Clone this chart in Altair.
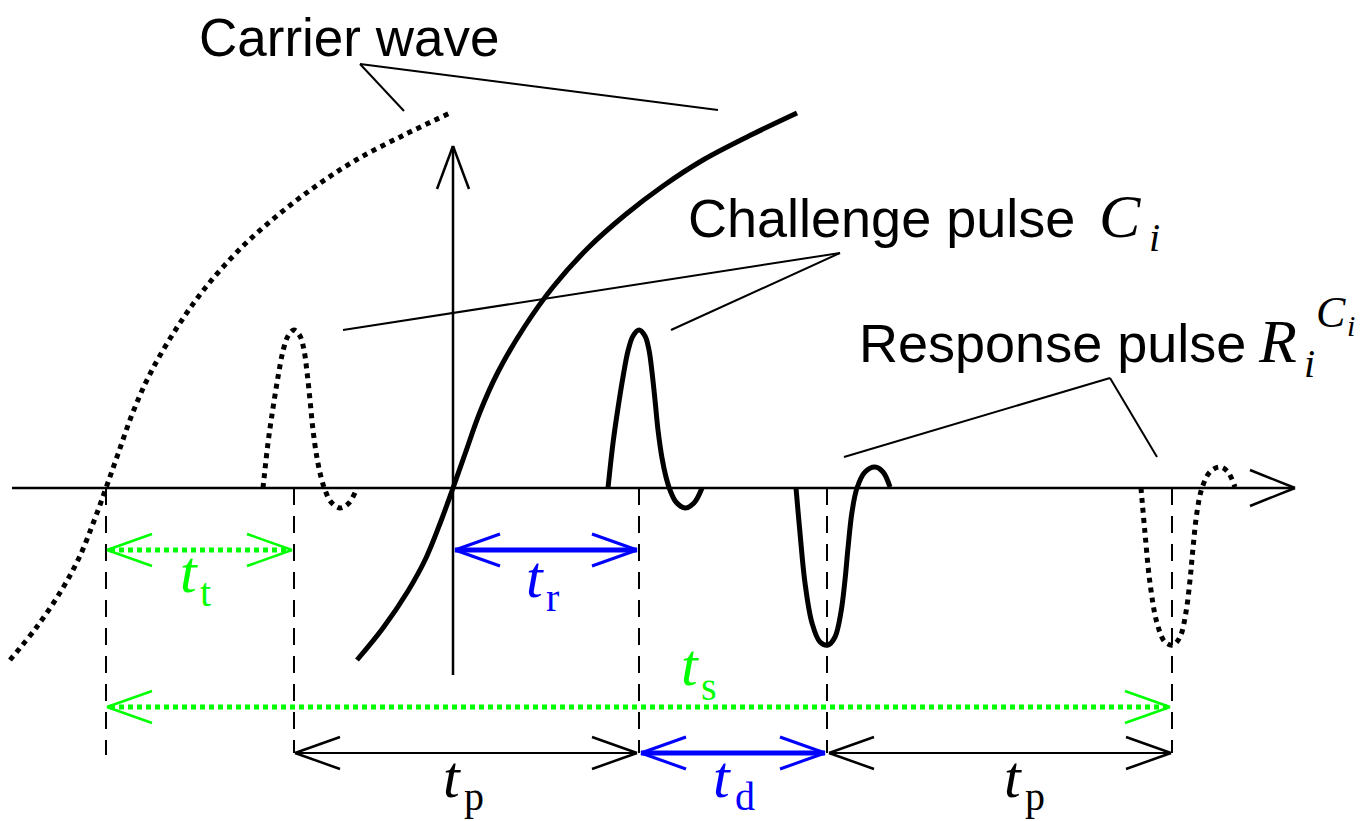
import altair as alt
import pandas as pd

# canvas: data units are page pixels (8px page margin)
W, H = 1350, 813
OX, OY = 8, 8

# ---------------- data ----------------
carrier_x = [357, 383, 408, 426, 441, 453, 465, 480, 498, 525, 553, 588, 625, 663, 703, 753, 797]
carrier_y = [660, 628, 591, 558, 521, 488, 454, 412, 372, 326, 287, 248, 215, 186, 160, 134, 113]
carrier_shift = -347          # dotted (earlier) carrier

challenge_x = [608, 613, 618, 623, 628, 633, 639, 645, 649, 652, 655, 658, 662, 666, 670, 676, 685, 694, 702]
challenge_y = [488, 443, 408, 377, 351, 336, 330, 336, 350, 372, 400, 430, 458, 477, 490, 502, 508, 503, 488]
response_x = [796, 800, 805, 812, 820, 828, 835, 841, 845, 848, 852, 857, 865, 875, 883, 890]
response_y = [488, 533, 583, 623, 642, 645, 637, 612, 580, 548, 512, 488, 472, 467, 472, 487]
period_shift = 345            # t_p

axis_y = 488
axis_x = 453
axis_x_range = [12, 1295]
axis_y_range = [675, 146]

dash_x = [106, 294, 639, 827, 1172]
dash_bottom = [755, 753, 753, 753, 753]

leaders = [  # polylines: (x, y) vertices
    [(404, 111), (360, 64), (718, 110)],
    [(343, 330), (840, 253), (671, 330)],
    [(844, 457), (1110, 378), (1157, 457)],
]

# dimension arrows: x1, x2, y, colour, width, dotted
arrows = [
    (107, 292, 550, "#00ff00", 5, True),    # t_t
    (455, 637, 550, "#0000ff", 5, False),   # t_r
    (107, 1170, 707, "#00ff00", 5, True),   # t_s
    (295, 637, 753, "#000000", 2, False),   # t_p
    (641, 825, 753, "#0000ff", 5, False),   # t_d
    (829, 1171, 753, "#000000", 2, False),  # t_p
]

# sans labels: text, x, baseline y, size
sans_labels = [("Carrier wave", 199, 56, 53), ("Challenge pulse", 688, 237, 54), ("Response pulse", 859, 362, 54)]
# math italic: text, x, y, size, colour
math_italic = [
    ("C", 1099, 237, 62, "#000000"),
    ("i", 1149, 251, 40, "#000000"),
    ("R", 1259, 362, 62, "#000000"),
    ("C", 1316, 327, 44, "#000000"),
    ("i", 1347, 336, 30, "#000000"),
    ("i", 1304, 377, 40, "#000000"),
    ("t", 180, 592, 60, "#00ff00"),
    ("t", 526, 597, 60, "#0000ff"),
    ("t", 681, 685, 60, "#00ff00"),
    ("t", 443, 797, 60, "#000000"),
    ("t", 713, 797, 60, "#0000ff"),
    ("t", 1004, 797, 60, "#000000"),
]
math_roman = [
    ("t", 200, 606, 40, "#00ff00"),
    ("r", 546, 611, 40, "#0000ff"),
    ("s", 701, 700, 40, "#00ff00"),
    ("p", 464, 810, 40, "#000000"),
    ("d", 735, 810, 40, "#0000ff"),
    ("p", 1025, 810, 40, "#000000"),
]

HEAD_L, HEAD_W = 45, 16

# ---------------- helpers ----------------
xs = alt.Scale(domain=[OX, OX + W], nice=False, zero=False)
ys = alt.Scale(domain=[OY, OY + H], nice=False, zero=False, reverse=True)


def curve_df(xv, yv, name, shift=0):
    return pd.DataFrame({"x": [v + shift for v in xv], "y": yv, "c": name, "i": range(len(xv))})


def lines(df, width, color="#000000", dash=None, interp="catmull-rom"):
    kw = dict(strokeWidth=width, color=color, interpolate=interp, strokeCap="butt", strokeJoin="round")
    if dash:
        kw["strokeDash"] = dash
    return alt.Chart(df).mark_line(**kw).encode(
        x=alt.X("x:Q", scale=xs, axis=None),
        y=alt.Y("y:Q", scale=ys, axis=None),
        detail="c:N",
        order="i:Q",
    )


def rules(segs, width, color="#000000", dash=None):
    df = pd.DataFrame(segs, columns=["x", "y", "x2", "y2"])
    kw = dict(strokeWidth=width, color=color, strokeCap="butt")
    if dash:
        kw["strokeDash"] = dash
    return alt.Chart(df).mark_rule(**kw).encode(
        x=alt.X("x:Q", scale=xs, axis=None),
        y=alt.Y("y:Q", scale=ys, axis=None),
        x2="x2:Q",
        y2="y2:Q",
    )


def texts(rows, font, style, weight="normal"):
    df = pd.DataFrame(rows, columns=["t", "x", "y", "s", "col"])
    return alt.Chart(df).mark_text(
        font=font, fontStyle=style, fontWeight=weight, align="left", baseline="alphabetic"
    ).encode(
        x=alt.X("x:Q", scale=xs, axis=None),
        y=alt.Y("y:Q", scale=ys, axis=None),
        text="t:N",
        size=alt.Size("s:Q", scale=None),
        color=alt.Color("col:N", scale=None),
    )


# ---------------- layers ----------------
solid_curves = pd.concat([
    curve_df(carrier_x, carrier_y, "carrier"),
    curve_df(challenge_x, challenge_y, "challenge"),
    curve_df(response_x, response_y, "response"),
])
dotted_curves = pd.concat([
    curve_df(carrier_x, carrier_y, "carrier0", carrier_shift),
    curve_df(challenge_x, challenge_y, "challenge0", -period_shift),
    curve_df(response_x, response_y, "response1", period_shift),
])

axis_segs = [
    (axis_x_range[0], axis_y, axis_x_range[1], axis_y),
    (axis_x, axis_y_range[0], axis_x, axis_y_range[1]),
    (axis_x_range[1], axis_y, axis_x_range[1] - HEAD_L, axis_y - HEAD_W - 2),
    (axis_x_range[1], axis_y, axis_x_range[1] - HEAD_L, axis_y + HEAD_W + 2),
    (axis_x, axis_y_range[1], axis_x - HEAD_W, axis_y_range[1] + HEAD_L - 2),
    (axis_x, axis_y_range[1], axis_x + HEAD_W, axis_y_range[1] + HEAD_L - 2),
]

dash_segs = [(x, axis_y, x, b) for x, b in zip(dash_x, dash_bottom)]

leader_segs = []
for pl in leaders:
    for a, b in zip(pl[:-1], pl[1:]):
        leader_segs.append((a[0], a[1], b[0], b[1]))

layers = [
    rules(dash_segs, 2, dash=[17, 11]),
    rules(axis_segs, 2.5),
    rules(leader_segs, 2),
    lines(dotted_curves, 5, dash=[5, 5]),
    lines(solid_curves, 5),
]

for x1, x2, y, col, w, dotted in arrows:
    shaft = [(x1 + (3 if dotted else 0), y, x2 - (3 if dotted else 0), y)]
    layers.append(rules(shaft, w, col, dash=[5, 4] if dotted else None))
    heads = [
        (x1, y, x1 + HEAD_L, y - HEAD_W),
        (x1, y, x1 + HEAD_L, y + HEAD_W),
        (x2, y, x2 - HEAD_L, y - HEAD_W),
        (x2, y, x2 - HEAD_L, y + HEAD_W),
    ]
    layers.append(rules(heads, 2.5 if w < 5 or dotted else 3, col))

layers.append(texts([(t, x, y, s, "#000000") for t, x, y, s in sans_labels], "Liberation Sans", "normal"))
layers.append(texts(math_italic, "Liberation Serif", "italic"))
layers.append(texts(math_roman, "Liberation Serif", "normal"))

chart = alt.layer(*layers).properties(
    width=W, height=H, padding=0, autosize=alt.AutoSizeParams(type="none")
).configure_view(stroke=None)

chart.save("out.html", embed_options={"renderer": "svg", "actions": False})
